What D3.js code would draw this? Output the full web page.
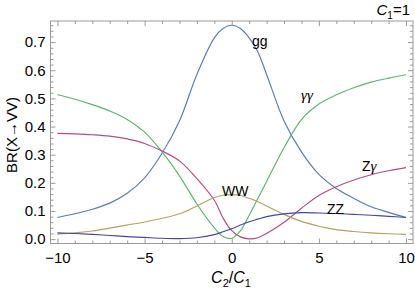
<!DOCTYPE html>
<html><head><meta charset="utf-8">
<script src="https://cdn.jsdelivr.net/npm/d3@7"></script>
<style>body{margin:0;background:#fff}svg{display:block}</style>
</head><body>
<script>
// ---- data ----
const xs   = [-10,-9,-8,-7,-6,-5,-4,-3,-2,-1,-0.5,0,0.5,1,1.5,2,3,4,5,6,7,8,9,10];
const gg   = [0.077,0.090,0.106,0.128,0.163,0.218,0.305,0.420,0.585,0.715,0.748,0.760,0.748,0.715,0.665,0.585,0.420,0.310,0.230,0.180,0.145,0.115,0.095,0.077];
const aa   = [0.513,0.497,0.478,0.455,0.425,0.380,0.310,0.225,0.125,0.040,0.009,0.003,0.030,0.085,0.145,0.205,0.325,0.425,0.480,0.513,0.538,0.558,0.572,0.584];
const za   = [0.376,0.374,0.371,0.366,0.356,0.340,0.313,0.278,0.215,0.138,0.075,0.030,0.008,0.001,0.005,0.020,0.060,0.110,0.155,0.186,0.210,0.229,0.243,0.254];
const ww   = [0.018,0.022,0.029,0.039,0.050,0.061,0.074,0.090,0.118,0.148,0.156,0.158,0.155,0.145,0.133,0.118,0.088,0.063,0.046,0.034,0.027,0.022,0.019,0.017];
const zz   = [0.022,0.020,0.017,0.013,0.009,0.006,0.003,0.002,0.005,0.016,0.026,0.037,0.050,0.062,0.071,0.080,0.090,0.094,0.093,0.091,0.088,0.085,0.081,0.077];
const seriesNames = ["gg","γγ","Zγ","WW","ZZ"];
const xMajor = [-10,-5,0,5,10];
const xMajorLabels = ["\u221210","\u22125","0","5","10"];
const yMajor = [0,0.1,0.2,0.3,0.4,0.5,0.6,0.7];
const yMajorLabels = ["0.0","0.1","0.2","0.3","0.4","0.5","0.6","0.7"];

const W = 415, H = 290;
const L = 50.5, R = 413, T = 21, B = 243.5;
const x = d3.scaleLinear().domain([-10.4, 10.4]).range([L, R]);
const y = d3.scaleLinear().domain([-0.0155, 0.775]).range([B, T]);

const svg = d3.select("body").append("svg").attr("width", W).attr("height", H)
  .style("font-family", "'Liberation Sans', Arial, sans-serif");

const colors = ["#5a78bb", "#5ab46e", "#b04d88", "#b3a35e", "#4646a6"];
const all = [gg, aa, za, ww, zz];

svg.append("clipPath").attr("id","c").append("rect")
  .attr("x", L).attr("y", T).attr("width", R-L).attr("height", B-T);

const line = d3.line().x(d => x(d[0])).y(d => y(d[1])).curve(d3.curveCatmullRom.alpha(0.5));
const g = svg.append("g").attr("clip-path","url(#c)");
all.forEach((s, i) => {
  g.append("path").datum(xs.map((v, j) => [v, s[j]]))
    .attr("d", line).attr("fill","none").attr("stroke", colors[i]).attr("stroke-width", 1.15);
});

// frame with ticks (Mathematica style)
const frameColor = "#9a9a9a";
svg.append("rect").attr("x", L).attr("y", T).attr("width", R-L).attr("height", B-T)
  .attr("fill","none").attr("stroke", frameColor).attr("stroke-width", 1);

const xMinor = d3.range(-10, 11, 1).filter(v => v % 5 !== 0);
const yMinor = d3.range(0, 0.77, 0.02).map(v => +v.toFixed(2)).filter(v => Math.round(v*100) % 10 !== 0);
const xAxisB = d3.axisBottom(x).tickValues(xMajor).tickFormat((d,i)=>xMajorLabels[i]).tickSizeInner(-5).tickSizeOuter(0).tickPadding(9);
const xAxisBm = d3.axisBottom(x).tickValues(xMinor).tickFormat("").tickSizeInner(-3).tickSizeOuter(0);
const xAxisT = d3.axisTop(x).tickValues(xMajor).tickFormat("").tickSizeInner(-5).tickSizeOuter(0);
const xAxisTm = d3.axisTop(x).tickValues(xMinor).tickFormat("").tickSizeInner(-3).tickSizeOuter(0);
const yAxisL = d3.axisLeft(y).tickValues(yMajor).tickFormat((d,i)=>yMajorLabels[i]).tickSizeInner(-5).tickSizeOuter(0).tickPadding(5);
const yAxisLm = d3.axisLeft(y).tickValues(yMinor).tickFormat("").tickSizeInner(-3).tickSizeOuter(0);
const yAxisR = d3.axisRight(y).tickValues(yMajor).tickFormat("").tickSizeInner(-5).tickSizeOuter(0);
const yAxisRm = d3.axisRight(y).tickValues(yMinor).tickFormat("").tickSizeInner(-3).tickSizeOuter(0);

function style(sel){
  sel.select(".domain").remove();
  sel.selectAll("line").attr("stroke", frameColor);
  sel.selectAll("text").attr("fill","#000").style("font-size","15px").style("font-family","'Liberation Sans', Arial, sans-serif");
}
svg.append("g").attr("transform",`translate(0,${B})`).call(xAxisB).call(style);
svg.append("g").attr("transform",`translate(0,${B})`).call(xAxisBm).call(style);
svg.append("g").attr("transform",`translate(0,${T})`).call(xAxisT).call(style);
svg.append("g").attr("transform",`translate(0,${T})`).call(xAxisTm).call(style);
svg.append("g").attr("transform",`translate(${L},0)`).call(yAxisL).call(style);
svg.append("g").attr("transform",`translate(${L},0)`).call(yAxisLm).call(style);
svg.append("g").attr("transform",`translate(${R},0)`).call(yAxisR).call(style);
svg.append("g").attr("transform",`translate(${R},0)`).call(yAxisRm).call(style);

// axis labels
const xl = svg.append("text").attr("x", 231).attr("y", 283).attr("text-anchor","middle")
  .style("font-size","16px");
xl.append("tspan").style("font-style","italic").text("C");
xl.append("tspan").attr("dy", 4).style("font-size","11px").text("2");
xl.append("tspan").attr("dy", -4).text("/");
xl.append("tspan").style("font-style","italic").text("C");
xl.append("tspan").attr("dy", 4).style("font-size","11px").text("1");

svg.append("text").attr("transform","translate(17,135) rotate(-90)").attr("text-anchor","middle")
  .style("font-size","15px").text("BR(X\u2192VV)");

const tl = svg.append("text").attr("x", 410).attr("y", 15).attr("text-anchor","end").style("font-size","15px");
tl.append("tspan").style("font-style","italic").text("C");
tl.append("tspan").attr("dy", 4).style("font-size","10px").text("1");
tl.append("tspan").attr("dy", -4).text("=1");

// curve labels
const lab = svg.append("g").style("font-size","14px");
lab.append("text").attr("x", 252).attr("y", 46).text(seriesNames[0]);
lab.append("text").attr("x", 301).attr("y", 100).style("font-family","'Liberation Serif', serif").style("font-style","italic").style("font-size","15px").text(seriesNames[1]);
const zg = lab.append("text").attr("x", 362).attr("y", 171);
zg.append("tspan").text("Z");
zg.append("tspan").style("font-family","'Liberation Serif', serif").style("font-style","italic").style("font-size","15px").text("γ");
lab.append("text").attr("x", 222).attr("y", 196).text(seriesNames[3]);
lab.append("text").attr("x", 327).attr("y", 214).text(seriesNames[4]);
</script>
</body></html>
